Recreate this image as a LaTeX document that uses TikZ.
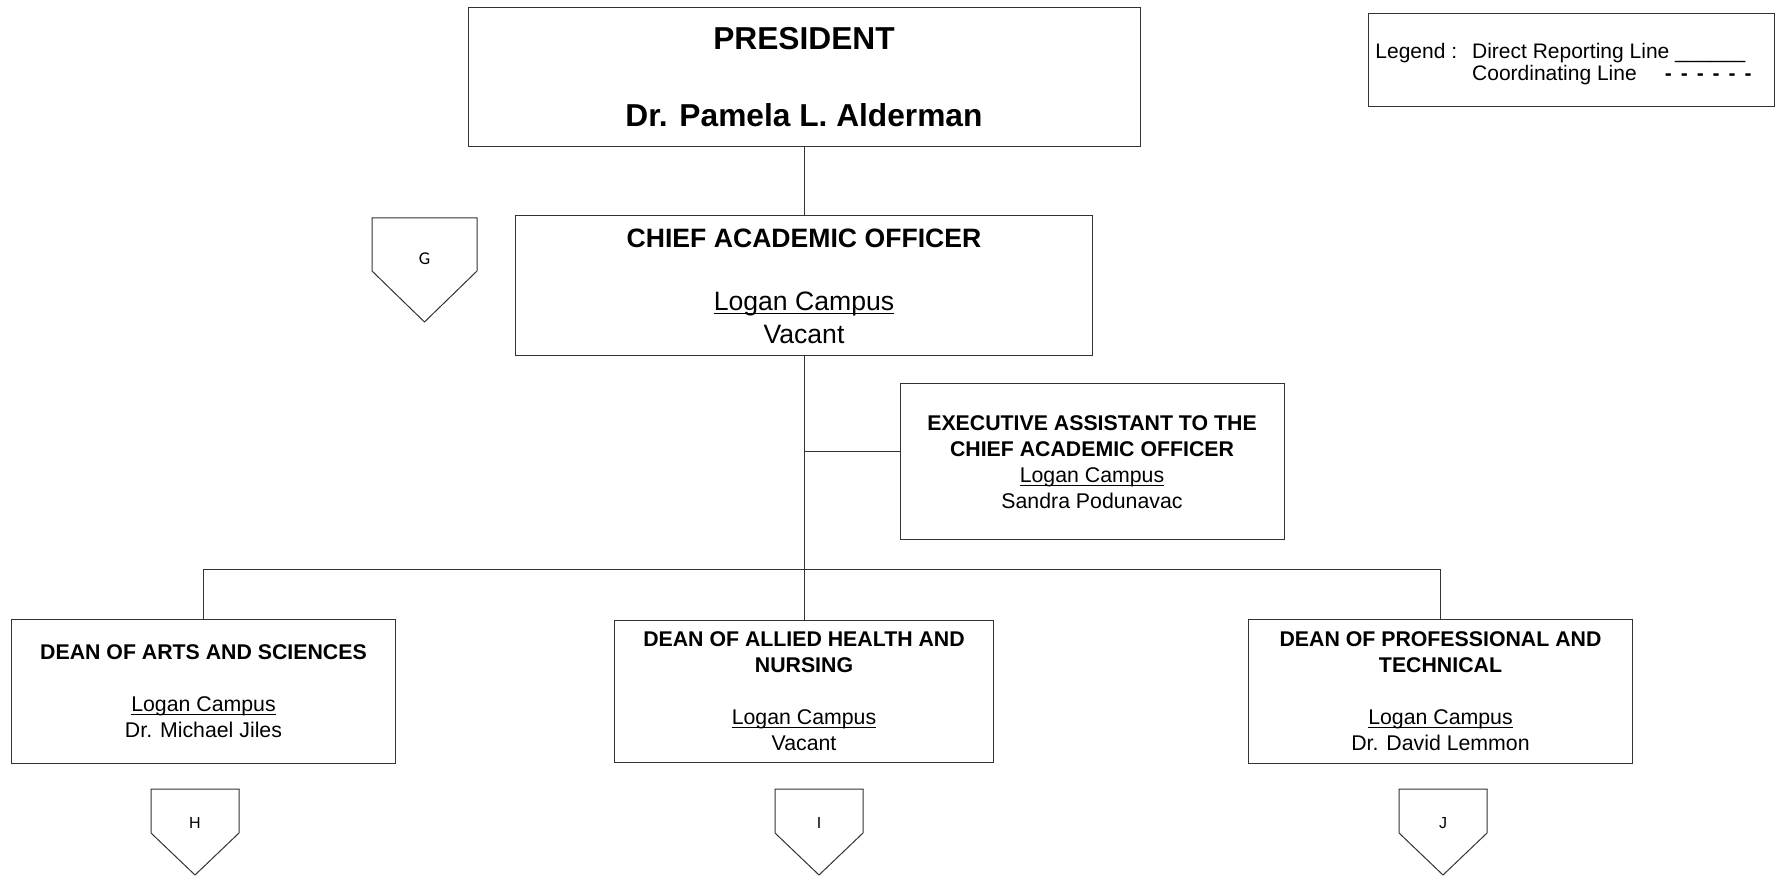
\documentclass[tikz,border=0pt]{standalone}
\usepackage{fontspec}
\setmainfont{Liberation Sans}
\newfontfamily\calfont{Carlito}
\usepackage{tikz}
\usetikzlibrary{positioning,calc}

\newcommand{\campus}[1]{\underline{\raisebox{0pt}[\height][0pt]{#1}}}

\begin{document}
\begin{tikzpicture}[
    x=0.5pt, y=-0.5pt,
    office/.style={
        rectangle, draw=black!80, line width=0.5pt, align=center, inner sep=0pt
    },
    dean/.style={
        office, minimum width=192pt, minimum height=72pt,
        font=\fontsize{10.65}{13}\selectfont
    },
    offpage/.style={inner sep=0pt, font=\fontsize{8}{9.6}\selectfont},
    link/.style={draw=black!80, line width=0.5pt}
]

\useasboundingbox (0,0) rectangle (1777,876);

% Top
\node[office, minimum width=336pt, minimum height=69.5pt,
      font=\bfseries\fontsize{15.85}{19.25}\selectfont] (pres) at (804,77.5)
      {PRESIDENT\\[19.25pt]Dr. Pamela L. Alderman};

\node[office, below=34pt of pres, minimum width=288.5pt, minimum height=70pt,
      font=\fontsize{13.3}{16.5}\selectfont] (cao)
      {\textbf{CHIEF ACADEMIC OFFICER}\\[15pt]\campus{Logan Campus}\\Vacant};

\node[office, minimum width=192pt, minimum height=78pt,
      font=\fontsize{10.65}{13}\selectfont] (exec) at (1092,462)
      {\textbf{EXECUTIVE ASSISTANT TO THE}\\\textbf{CHIEF ACADEMIC OFFICER}\\\campus{Logan Campus}\\Sandra Podunavac};

% Deans
\node[dean, below=131.5pt of cao, minimum width=189.5pt, minimum height=71pt] (allied)
      {\textbf{DEAN OF ALLIED HEALTH AND}\\\textbf{NURSING}\\[13pt]\campus{Logan Campus}\\Vacant};
\node[dean, left=109pt of allied] (arts)
      {\textbf{DEAN OF ARTS AND SCIENCES}\\[13pt]\campus{Logan Campus}\\Dr. Michael Jiles};
\node[dean, right=127pt of allied] (prof)
      {\textbf{DEAN OF PROFESSIONAL AND}\\\textbf{TECHNICAL}\\[13pt]\campus{Logan Campus}\\Dr. David Lemmon};

% Off-page connectors
\node[offpage, font=\calfont\fontsize{9}{11}\selectfont] (pgG) at (424.5,259) {G};
\node[offpage] (pgH) at (195,823) {H};
\node[offpage] (pgI) at (819,823) {I};
\node[offpage] (pgJ) at (1443,823) {J};

\foreach \n/\w/\t/\s/\b in {pgG/52.5/41/12/63, pgH/44/34/10/52, pgI/44/34/10/52, pgJ/44/34/10/52}
{
    \draw[link] ($(\n)+(-\w,-\t)$) -- ($(\n)+(\w,-\t)$) -- ($(\n)+(\w,\s)$)
        -- ($(\n)+(0,\b)$) -- ($(\n)+(-\w,\s)$) -- cycle;
}

% Legend
\node[office, minimum width=203pt, minimum height=46.5pt] (legend) at (1571,60.5) {};
\node[anchor=west, align=left, inner sep=0pt, font=\fontsize{10.5}{11}\selectfont] (legtext) at (1375,64)
    {Legend :\hspace{7.5pt}Direct Reporting Line \_\_\_\_\_\_\\
     \hphantom{Legend :\hspace{7.5pt}}Coordinating Line\hspace{14pt}\textbf{-\hspace{4.5pt}-\hspace{4.5pt}-\hspace{4.5pt}-\hspace{4.5pt}-\hspace{4.5pt}-}};

% Reporting lines
\draw[link] (pres) -- (cao);
\draw[link] (cao) -- (allied);
\draw[link] (arts.north) -- ++(0,-49) -| (prof.north);
\coordinate (tap) at ($(exec.west)+(0,-10)$);
\draw[link] (tap) -- (tap -| cao.south);

\end{tikzpicture}
\end{document}
